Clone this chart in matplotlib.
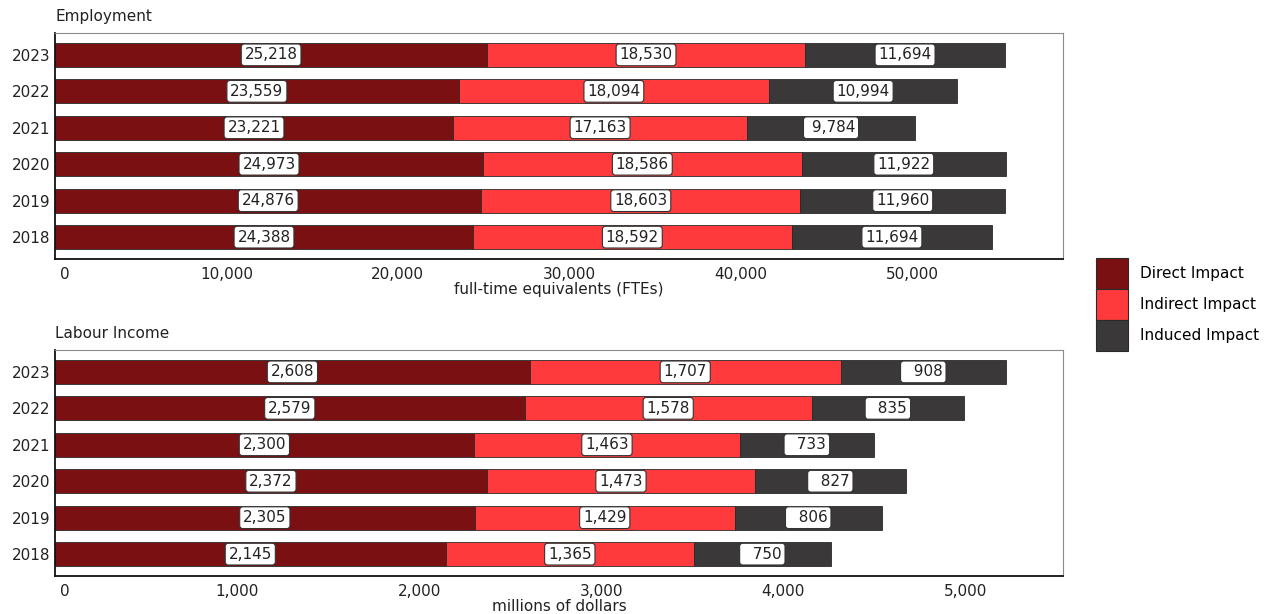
import matplotlib
matplotlib.use("Agg")
import matplotlib.pyplot as plt
from matplotlib.patches import Patch
from matplotlib.ticker import FuncFormatter
from matplotlib.transforms import ScaledTranslation

years = ["2018", "2019", "2020", "2021", "2022", "2023"]
series_names = ["Direct Impact", "Indirect Impact", "Induced Impact"]

emp_direct = [24388, 24876, 24973, 23221, 23559, 25218]
emp_indirect = [18592, 18603, 18586, 17163, 18094, 18530]
emp_induced = [11694, 11960, 11922, 9784, 10994, 11694]

inc_direct = [2145, 2305, 2372, 2300, 2579, 2608]
inc_indirect = [1365, 1429, 1473, 1463, 1578, 1707]
inc_induced = [750, 806, 827, 733, 835, 908]

emp_ticks = [0, 10000, 20000, 30000, 40000, 50000]
inc_ticks = [0, 1000, 2000, 3000, 4000, 5000]

colors = ["#7b1012", "#ff3a3c", "#3a3838"]
FS = 11

plt.rcParams["font.family"] = ["DejaVu Sans"]

fig = plt.figure(figsize=(12.67, 6.14), dpi=100)
ax_top = fig.add_axes([55 / 1267, 1 - 259 / 614, 1008 / 1267, 226 / 614])
ax_bot = fig.add_axes([55 / 1267, 1 - 576 / 614, 1008 / 1267, 226 / 614])


def panel(ax, title, xlabel, series, ticks):
    ypos = list(range(len(years)))
    # labels share a common width within a panel (right-justified)
    width = max(len(f"{v:,}") for vals in series for v in vals)
    left = [0] * len(years)
    for vals, col in zip(series, colors):
        ax.barh(ypos, vals, left=left, height=0.66, color=col,
                edgecolor="#2a2a2a", linewidth=0.6)
        for y, l, v in zip(ypos, left, vals):
            ax.text(l + v / 2, y, f"{v:,}".rjust(width), ha="center",
                    va="center", fontsize=FS, color="#222222",
                    bbox=dict(boxstyle="round,pad=0.22,rounding_size=0.2",
                              fc="white", ec="#333333", lw=0.8))
        left = [a + b for a, b in zip(left, vals)]
    totals = left
    ax.set_xlim(0, max(totals) * 1.06)
    ax.set_ylim(-0.6, len(years) - 0.4)
    ax.set_yticks(ypos)
    ax.set_yticklabels(years)
    ax.set_xticks(ticks)
    ax.xaxis.set_major_formatter(FuncFormatter(lambda v, p: f"{int(v):,}"))
    ax.tick_params(axis="both", length=0, labelsize=FS, colors="#222222")
    ax.tick_params(axis="x", pad=6)
    ax.tick_params(axis="y", pad=3)
    zero = ax.get_xticklabels()[0]
    zero.set_transform(zero.get_transform()
                       + ScaledTranslation(0.10, 0, fig.dpi_scale_trans))
    for s in ["top", "right"]:
        ax.spines[s].set_color("#8a8a8a")
        ax.spines[s].set_linewidth(0.8)
    for s in ["left", "bottom"]:
        ax.spines[s].set_color("#111111")
        ax.spines[s].set_linewidth(1.3)
    ax.set_title(title, loc="left", fontsize=FS, pad=9, color="#222222")
    ax.set_xlabel(xlabel, fontsize=FS, labelpad=0, color="#222222")


panel(ax_top, "Employment", "full-time equivalents (FTEs)",
      [emp_direct, emp_indirect, emp_induced], emp_ticks)
panel(ax_bot, "Labour Income", "millions of dollars",
      [inc_direct, inc_indirect, inc_induced], inc_ticks)

handles = [Patch(facecolor=c, edgecolor="#2a2a2a", linewidth=0.8) for c in colors]
fig.legend(handles, series_names, loc="upper left",
           bbox_to_anchor=(1096 / 1267, 1 - 258 / 614), frameon=False,
           fontsize=FS, handlelength=2.1, handleheight=2.75,
           labelspacing=0.0, handletextpad=0.8, borderpad=0, borderaxespad=0)

fig.savefig("out.png", dpi=100)
